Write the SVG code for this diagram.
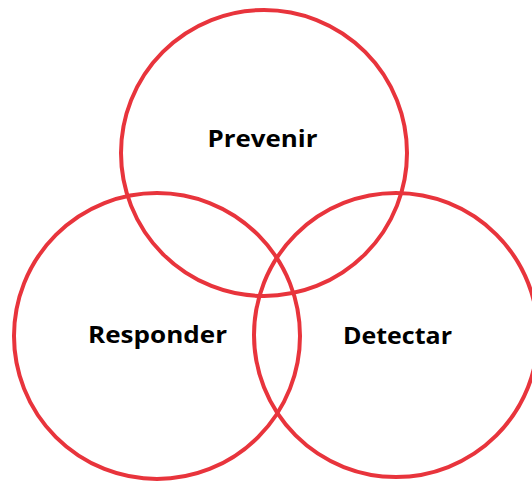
<svg xmlns="http://www.w3.org/2000/svg" width="532" height="482" viewBox="0 0 532 482">
<style>
.c{fill:none;stroke:#e8343c;stroke-width:4}
.t{font-family:"Open Sans","Liberation Sans",sans-serif;font-weight:bold;font-size:23px;fill:#000;text-anchor:middle}
</style>
<rect width="532" height="482" fill="#fff"/>
<g id="prevenir">
<circle class="c" cx="264" cy="153" r="143"/>
<text class="t" x="262.5" y="147" textLength="110" lengthAdjust="spacingAndGlyphs">Prevenir</text>
</g>
<g id="responder">
<circle class="c" cx="157" cy="336" r="143"/>
<text class="t" x="157.5" y="343" textLength="139" lengthAdjust="spacingAndGlyphs">Responder</text>
</g>
<g id="detectar">
<circle class="c" cx="396" cy="335" r="142"/>
<text class="t" x="397.5" y="344" textLength="109" lengthAdjust="spacingAndGlyphs">Detectar</text>
</g>
<g id="connectors"></g>
</svg>
